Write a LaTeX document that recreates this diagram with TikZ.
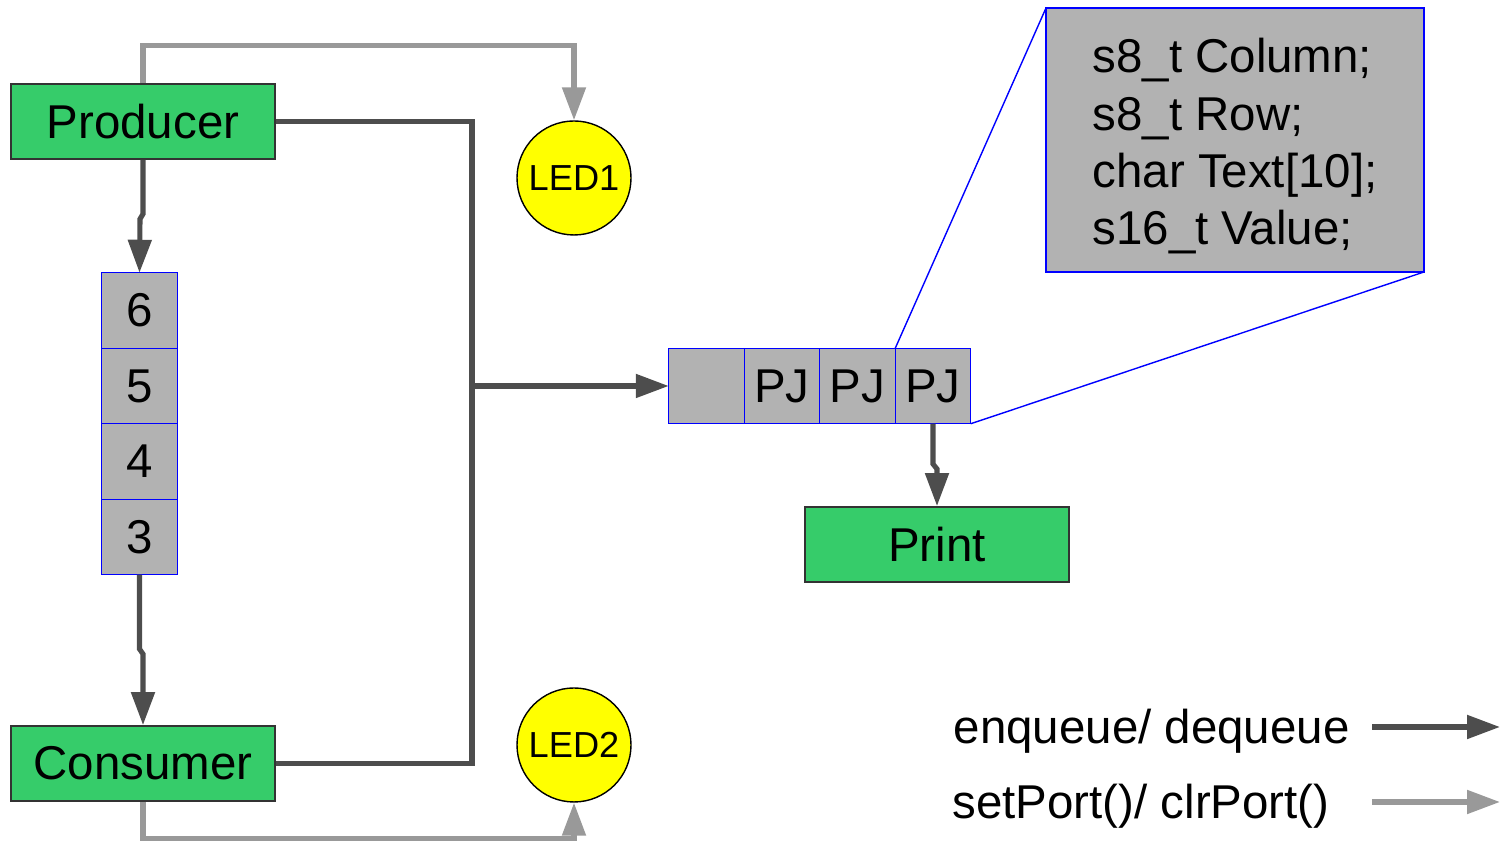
\documentclass[tikz,border=0pt]{standalone}
\usepackage{fontspec}
\setmainfont{Liberation Sans}
\usetikzlibrary{positioning,calc}
\usetikzlibrary{arrows.meta}
\definecolor{TaskGreen}{RGB}{54,204,106}
\definecolor{CellGray}{RGB}{178,178,178}
\definecolor{QueueLine}{RGB}{77,77,77}
\definecolor{PortLine}{RGB}{153,153,153}
\definecolor{LedYellow}{RGB}{255,255,0}
\tikzset{
	task/.style={draw=black!80,fill=TaskGreen,line width=0.5pt,minimum width=2.64cm,minimum height=0.75cm,inner sep=0pt,font=\fontsize{13.5}{16}\selectfont},
	cell/.style={draw=blue,fill=CellGray,line width=0.4pt,outer sep=0pt,minimum width=0.755cm,minimum height=0.755cm,inner sep=0pt,font=\fontsize{13.5}{16}\selectfont},
	led/.style={circle,draw=black,fill=LedYellow,line width=0.4pt,minimum size=1.14cm,inner sep=0pt,font=\fontsize{10.3}{12}\selectfont},
	queue/.style={draw=QueueLine,line width=1.45pt},
	port/.style={draw=PortLine,line width=1.45pt},
	tip/.style={-{Triangle[length=3.3mm,width=2.3mm]}},
}

\begin{document}
\begin{tikzpicture}
			\useasboundingbox (0,0) rectangle (15.07,8.41);
			% tasks
			\node[task] (prod) at (1.43,7.195) {Producer};
			\node[task] (cons) at (1.43,0.775) {Consumer};
			\node[task] (print) at (9.37,2.965) {Print};
			% leds
			\node[led] (led1) at (5.74,6.63) {LED1};
			\node[led] (led2) at (5.74,0.96) {LED2};
			% stack of values
			\node[cell] (s6) at (1.395,5.305) {6};
			\node[cell,below=0pt of s6] (s5) {5};
			\node[cell,below=0pt of s5] (s4) {4};
			\node[cell,below=0pt of s4] (s3) {3};
			% print queue
			\node[cell] (q0) at (7.065,4.55) {};
			\node[cell,right=0pt of q0] (q1) {PJ};
			\node[cell,right=0pt of q1] (q2) {PJ};
			\node[cell,right=0pt of q2] (q3) {PJ};
			% element layout
			\node[draw=blue,fill=CellGray,line width=0.4pt,outer sep=0pt,minimum width=3.78cm,minimum height=2.64cm,
				align=left,font=\fontsize{13.5}{16.3}\selectfont] (elem) at (12.35,7.01)
				{\rule{0pt}{13.4pt}s8\_t Column;\\s8\_t Row;\\char Text[10];\\s16\_t Value;};
			\draw[blue,line width=0.4pt] (q3.north west) -- (elem.north west);
			\draw[blue,line width=0.4pt] (q3.south east) -- (elem.south east);
			% enqueue / dequeue
			\draw[queue] (prod.east) -- (4.72,7.195) -- (4.72,0.775) -- (cons.east);
			\draw[queue,tip] (4.72,4.55) -- (q0.west);
			\draw[queue,tip] (prod.south) -- (1.43,6.27) -- (1.40,6.22) -- (s6.north);
			\draw[queue,tip] (s3.south) -- (1.395,1.92) -- (1.43,1.87) -- (cons.north);
			\draw[queue,tip] (q3.south) -- (9.33,3.77) -- (9.37,3.72) -- (print.north);
			% setPort / clrPort
			\draw[port,tip] (prod.north) -- ++(0,0.38) -| (led1.north);
			\draw[port,tip] (cons.south) -- ++(0,-0.37) -| (led2.south);
			% legend
			\node[font=\fontsize{13.5}{16}\selectfont,anchor=east] (lgq) at (13.62,1.10) {enqueue/ dequeue};
			\node[font=\fontsize{13.5}{16}\selectfont,anchor=east] (lgp) at (13.42,0.35) {setPort()/ clrPort()};
			\coordinate (lgqa) at (13.72,1.14);
			\coordinate (lgqb) at (15.0,1.14);
			\coordinate (lgpa) at (13.72,0.39);
			\coordinate (lgpb) at (15.0,0.39);
			\draw[queue,tip] (lgqa) -- (lgqb);
			\draw[port,tip] (lgpa) -- (lgpb);
		\end{tikzpicture}
\end{document}
